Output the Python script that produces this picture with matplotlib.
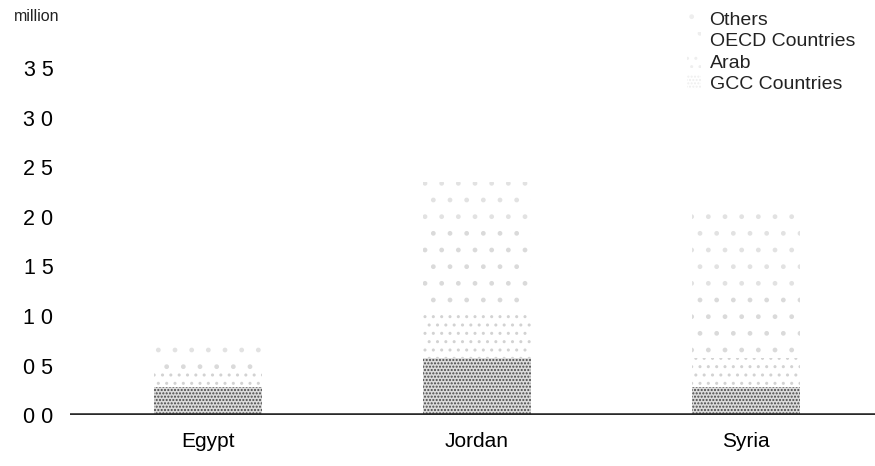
from matplotlib import pyplot as plt
from matplotlib.patches import Patch
import numpy as np

plt.rcParams['font.family'] = ['Liberation Sans', 'DejaVu Sans']

# valores (milhoes)
countries = ['Egypt', 'Jordan', 'Syria']
gcc = [0.28, 0.58, 0.28]
arab = [0.17, 0.47, 0.30]
oecd = [0.15, 0.85, 0.62]
others = [0.13, 0.45, 0.88]
yticks = [0.0, 0.5, 1.0, 1.5, 2.0, 2.5, 3.0, 3.5]
ytick_labels = ['0 0', '0 5', '1 0', '1 5', '2 0', '2 5', '3 0', '3 5']

fig = plt.figure(figsize=(8.75, 4.66), dpi=100)
ax = fig.add_axes([0.08, 0.109, 0.92, 0.745])

x = np.arange(len(countries))
w = 0.40
plt.rcParams['hatch.linewidth'] = 1.0

bottom = np.zeros(len(countries))
estilos = [
    (gcc, 'GCC Countries', '#dcdcdc', '#474747', '.....'),
    (arab, 'Arab', 'white', '#d2d2d2', '..'),
    (oecd, 'OECD Countries', 'white', '#dadada', '.'),
    (others, 'Others', 'white', '#e2e2e2', '.'),
]
handles = []
for vals, lab, fc, hc, hatch in estilos:
    ax.bar(x, vals, w, bottom=bottom, color=fc, edgecolor=hc, hatch=hatch,
           linewidth=0)
    bottom = bottom + np.array(vals)
    handles.append(Patch(facecolor='white', edgecolor='#eeeeee', hatch=hatch,
                         linewidth=0, label=lab))

ax.axhline(0, color='#2a2a2a', lw=2.6, zorder=5)

ax.set_xlim(-0.513, 2.48)
ax.set_ylim(0, 3.5)
ax.set_xticks(x)
ax.set_xticklabels(countries, fontsize=15)
ax.set_yticks(yticks)
ax.set_yticklabels(ytick_labels, fontsize=15.5)
ax.tick_params(length=0)
ax.tick_params(axis='y', pad=12)
ax.tick_params(axis='x', pad=12)
for s in ax.spines.values():
    s.set_visible(False)

fig.text(0.016, 0.955, 'million', fontsize=11.5, color='#222222')

leg = ax.legend(handles=handles[::-1], loc='upper left',
                bbox_to_anchor=(0.745, 1.215), frameon=False, fontsize=14,
                handlelength=0.7, handleheight=0.7, handletextpad=0.45,
                labelspacing=0.2)
for t in leg.get_texts():
    t.set_color('#222222')

plt.savefig('out.png', dpi=100)
